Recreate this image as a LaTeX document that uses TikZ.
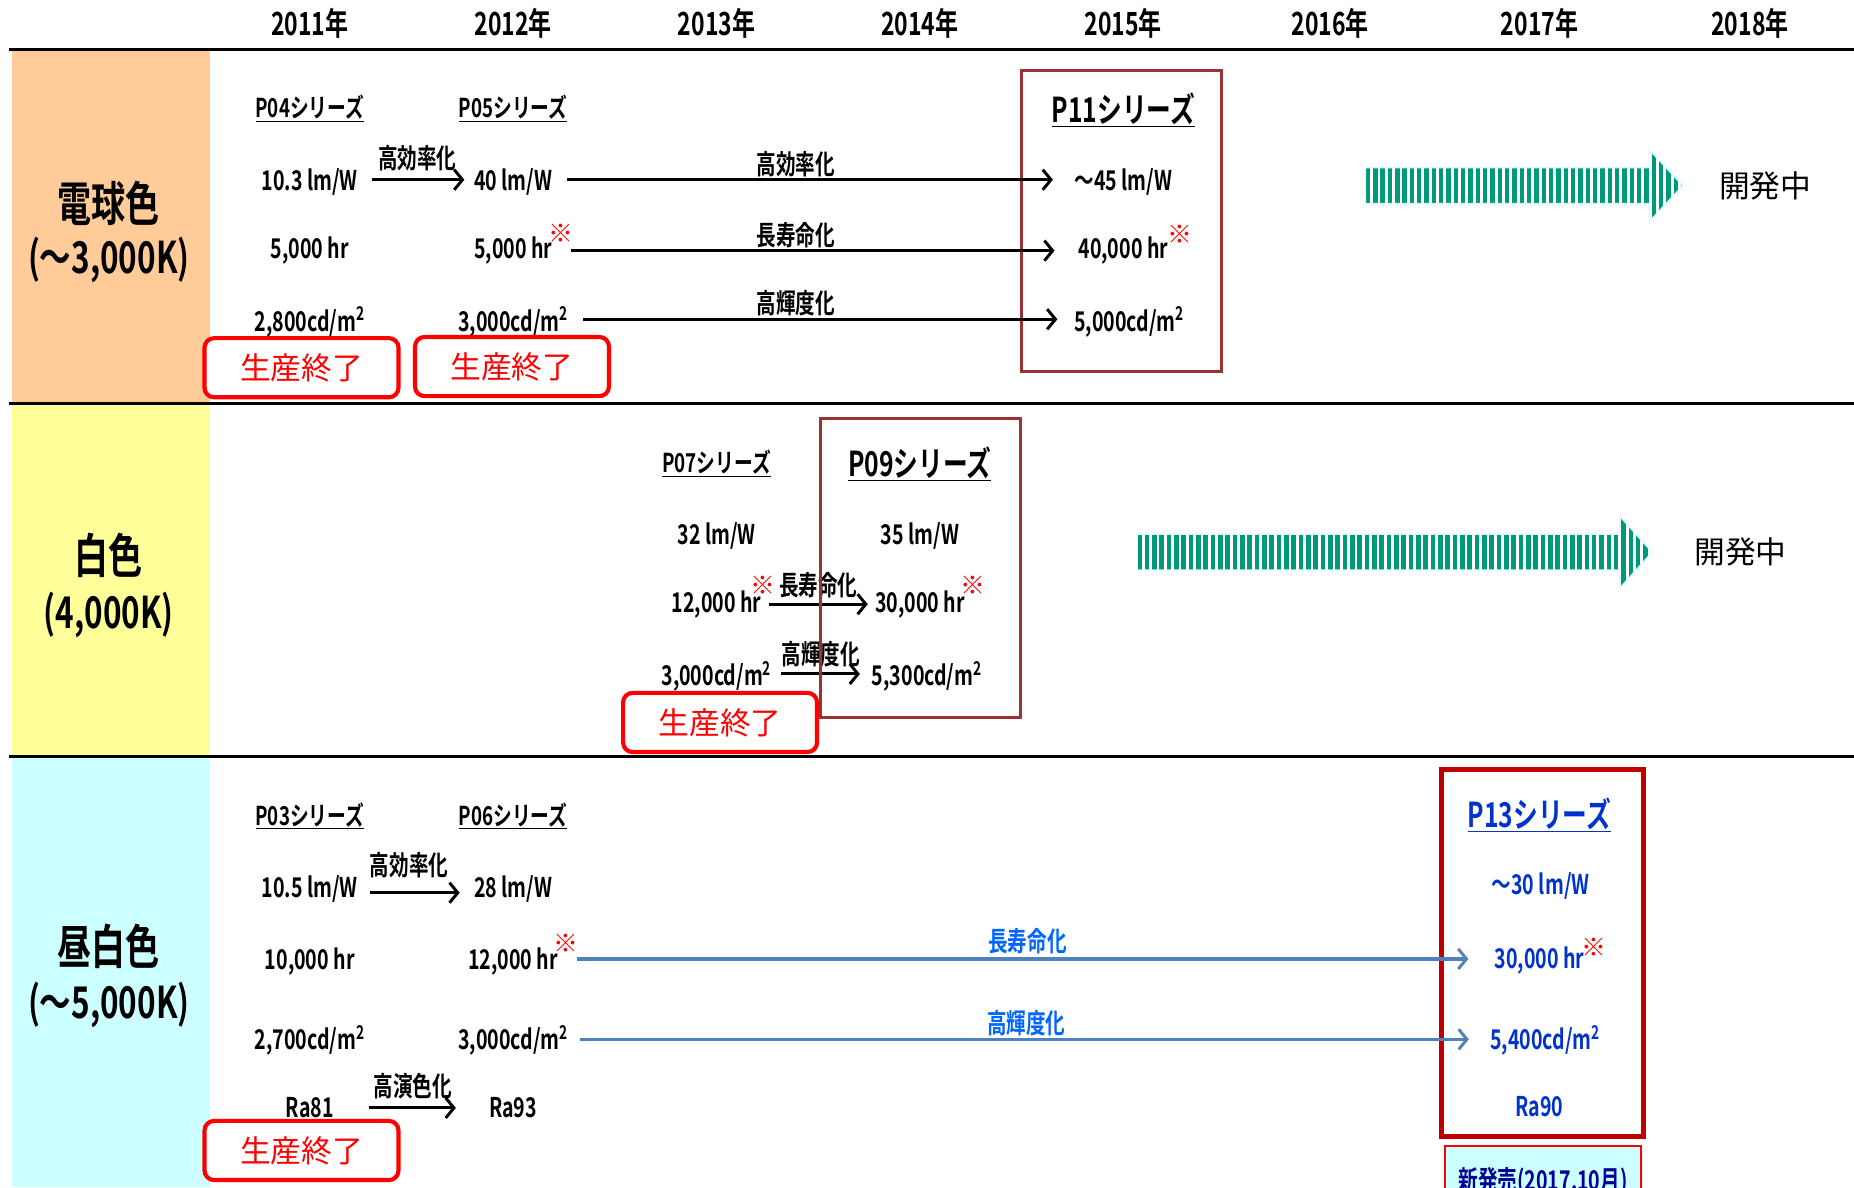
\documentclass[tikz,border=0pt]{standalone}
\usepackage{fontspec}
\usetikzlibrary{arrows.meta}
\newfontfamily\nb{Noto Sans CJK JP Bold}[FakeStretch=0.72]
\newfontfamily\nbw{Noto Sans CJK JP Bold}
\newfontfamily\nr{Noto Sans CJK JP}
\definecolor{peach}{HTML}{FFCC99}
\definecolor{lyellow}{HTML}{FFFF99}
\definecolor{lcyan}{HTML}{CCFFFF}
\definecolor{boxbrown}{HTML}{993333}
\definecolor{boxdred}{HTML}{C00000}
\definecolor{dblue}{HTML}{0033CC}
\definecolor{lblue}{HTML}{0066FF}
\definecolor{lineblue}{HTML}{4F81BD}
\definecolor{stripegreen}{RGB}{0,153,119}
\definecolor{navy}{HTML}{000099}
\newcommand{\stripedarrow}[4]{% x0, head base, tip, y center
  \begin{scope}
    \clip (#1,{#4-15}) -- (#2,{#4-15}) -- (#2,{#4-30}) -- (#3,#4) -- (#2,{#4+30}) -- (#2,{#4+15}) -- (#1,{#4+15}) -- cycle;
    \foreach \i in {0,...,70} \fill[stripegreen] ({#1+\i*6.2},{#4-31}) rectangle ++(3.8,62);
  \end{scope}
  \draw[lcyan, line width=0.8pt] (#1,{#4-15}) -- (#2,{#4-15}) -- (#2,{#4-30}) -- (#3,#4) -- (#2,{#4+30}) -- (#2,{#4+15}) -- (#1,{#4+15}) -- cycle;
}
% \linkarrow{style}{name}{source}{xshift}{yshift}{target}{shorten end}
\newcommand{\linkarrow}[7]{%
  \coordinate (#2) at ([xshift=#4,yshift=#5]#3.east);
  \draw[#1, shorten >=#7] (#2) -- (#2 -| #6.west);
}
\tikzset{
  dt/.style={font=\nb\fontsize{23}{25}\selectfont, inner sep=4pt},
  lb/.style={font=\nb\fontsize{23}{25}\selectfont, inner sep=0pt},
  ser/.style={font=\nb\fontsize{22}{24}\selectfont, inner sep=2pt},
  bigser/.style={font=\nb\fontsize{29}{31}\selectfont, inner sep=2pt},
  yr/.style={font=\nb\fontsize{27}{29}\selectfont},
  cat/.style={font=\nb\fontsize{40}{44}\selectfont},
  catk/.style={font=\nb\fontsize{37}{40}\selectfont},
  ast/.style={font=\nbw\fontsize{21}{23}\selectfont, text=red, inner sep=0pt},
  endbox/.style={draw=red, line width=3.5pt, rounded corners=8pt, fill=white, text=red,
     font=\nr\fontsize{26}{28}\selectfont, minimum width=164pt, minimum height=50pt, inner sep=0pt},
  devtext/.style={font=\nr\fontsize{26}{28}\selectfont},
  sep/.style={line width=2.2pt, black},
  arr/.style={line width=2.5pt, -{Straight Barb[length=7pt,width=17pt,line width=2.5pt]}},
  barr/.style={line width=3pt, lineblue, -{Straight Barb[length=7pt,width=17pt,line width=2.5pt]}},
  serbox/.style={draw=boxbrown, line width=2.5pt},
}
\begin{document}
\begin{tikzpicture}[x=1pt,y=-1pt]
\useasboundingbox (0,0) rectangle (1568,1004);
\clip (0,0) rectangle (1568,1004);
% left category panels
\fill[peach] (10,42) rectangle (178,341);
\fill[lyellow] (10,341) rectangle (178,640);
\fill[lcyan] (10,640) rectangle (178,1004);
% separators
\draw[sep] (8,42) -- (1568,42);
\draw[sep] (8,341) -- (1568,341);
\draw[sep] (8,640) -- (1568,640);
% years
\foreach \x/\t [count=\i] in {262/2011,434/2012,606/2013,778/2014,950/2015,1125/2016,1302/2017,1480/2018}
  \node[yr] (yr\i) at (\x,20) {\t 年};
% category labels
\node[cat] (k1) at (92,172) {電球色};
\node[catk] (k1b) at (92,220) {(～3,000K)};
\node[cat] (k2) at (92,470) {白色};
\node[catk] (k2b) at (92,520) {(4,000K)};
\node[cat] (k3) at (92,800) {昼白色};
\node[catk] (k3b) at (92,850) {(～5,000K)};

% ================= Row 1 =================
\draw[serbox] (864,60) rectangle (1033,314);
\node[ser] (p04) at (262,92) {\underline{P04シリーズ}};
\node[ser] (p05) at (434,92) {\underline{P05シリーズ}};
\node[bigser] (p11) at (950,93) {\underline{P11シリーズ}};
\node[dt] (a1) at (262,154) {10.3 lm/W};
\node[dt] (a2) at (434,154) {40 lm/W};
\node[dt] (a3) at (950,154) {～45 lm/W};
\node[dt] (b1) at (262,212) {5,000 hr};
\node[dt] (b2) at (434,212) {5,000 hr};
\node[dt] (b3) at (950,212) {40,000 hr};
\node[ast] (s1) at (474,197) {※};
\node[ast] (s2) at (998,198) {※};
\node[dt] (c1) at (262,272) {2,800cd/m\textsuperscript{2}};
\node[dt] (c2) at (434,272) {3,000cd/m\textsuperscript{2}};
\node[dt] (c3) at (955,272) {5,000cd/m\textsuperscript{2}};
\linkarrow{arr}{w1}{a1}{8pt}{2pt}{a2}{4pt}
\node[lb] (l1) at (353,134) {高効率化};
\linkarrow{arr}{w2}{a2}{8pt}{2pt}{a3}{14pt}
\node[lb] (l2) at (673,139) {高効率化};
\linkarrow{arr}{w3}{b2}{12pt}{0pt}{b3}{16pt}
\node[lb] (l3) at (673,199) {長寿命化};
\linkarrow{arr}{w4}{c2}{8pt}{2pt}{c3}{10pt}
\node[lb] (l4) at (673,256) {高輝度化};
\node[endbox] (e1) at (255,311) {生産終了};
\node[endbox] (e2) at (433,310) {生産終了};
\stripedarrow{1155}{1395}{1423}{157}
\node[devtext] (d1) at (1493,157) {開発中};

% ================= Row 2 =================
\node[ser] (p07) at (606,392) {\underline{P07シリーズ}};
\node[bigser] (p09) at (778,392) {\underline{P09シリーズ}};
\node[dt] (f1) at (606,453) {32 lm/W};
\node[dt] (f2) at (778,453) {35 lm/W};
\node[dt] (g1) at (606,511) {12,000 hr};
\node[dt] (g2) at (778,511) {30,000 hr};
\node[ast] (s3) at (645,495) {※};
\node[ast] (s4) at (823,495) {※};
\node[dt] (h1) at (606,572) {3,000cd/m\textsuperscript{2}};
\node[dt] (h2) at (784,572) {5,300cd/m\textsuperscript{2}};
\linkarrow{arr}{w5}{g1}{2pt}{0pt}{g2}{2pt}
\node[lb] (l5) at (692,495) {長寿命化};
\linkarrow{arr}{w6}{h1}{4pt}{2pt}{h2}{6pt}
\node[lb] (l6) at (694,553) {高輝度化};
\draw[serbox] (694,354) rectangle (863,607);
\node[endbox] (e3) at (609,611) {生産終了};
\stripedarrow{962}{1370}{1397}{467}
\node[devtext] (d2) at (1472,467) {開発中};

% ================= Row 3 =================
\draw[draw=boxdred, line width=4pt] (1219,651) rectangle (1390,961);
\node[ser] (p03) at (262,690) {\underline{P03シリーズ}};
\node[ser] (p06) at (434,690) {\underline{P06シリーズ}};
\node[bigser, text=dblue] (p13) at (1302,689) {\underline{P13シリーズ}};
\node[dt] (m1) at (262,752) {10.5 lm/W};
\node[dt] (m2) at (434,752) {28 lm/W};
\node[dt, text=dblue] (m3) at (1303,749) {～30 lm/W};
\node[dt] (n1) at (262,813) {10,000 hr};
\node[dt] (n2) at (434,813) {12,000 hr};
\node[dt, text=dblue] (n3) at (1302,812) {30,000 hr};
\node[ast] (s5) at (479,798) {※};
\node[ast] (s6) at (1348,801) {※};
\node[dt] (q1) at (262,880) {2,700cd/m\textsuperscript{2}};
\node[dt] (q2) at (434,880) {3,000cd/m\textsuperscript{2}};
\node[dt, text=dblue] (q3) at (1307,880) {5,400cd/m\textsuperscript{2}};
\node[dt] (r1) at (262,937) {Ra81};
\node[dt] (r2) at (434,937) {Ra93};
\node[dt, text=dblue] (r3) at (1302,936) {Ra90};
\linkarrow{arr}{w7}{m1}{6pt}{-3pt}{m2}{8pt}
\node[lb] (l7) at (346,732) {高効率化};
\linkarrow{barr}{w8}{n2}{12pt}{2pt}{n3}{18pt}
\node[lb, text=lblue] (l8) at (869,796) {長寿命化};
\linkarrow{barr}{w9}{q2}{6pt}{1pt}{q3}{14pt}
\node[lb, text=lblue] (l9) at (868,865) {高輝度化};
\linkarrow{arr}{w10}{r1}{26pt}{0pt}{r2}{24pt}
\node[lb] (l10) at (349,919) {高演色化};
\node[endbox] (e4) at (255,973) {生産終了};
\node[draw=red, line width=2pt, fill=lcyan, text=navy, font=\nb\fontsize{23}{25}\selectfont,
      minimum width=166pt, minimum height=50pt, anchor=north, text depth=0pt] (nb) at (1305,968)
      {\raisebox{-7pt}{新発売(2017.10月)}};
\end{tikzpicture}
\end{document}
